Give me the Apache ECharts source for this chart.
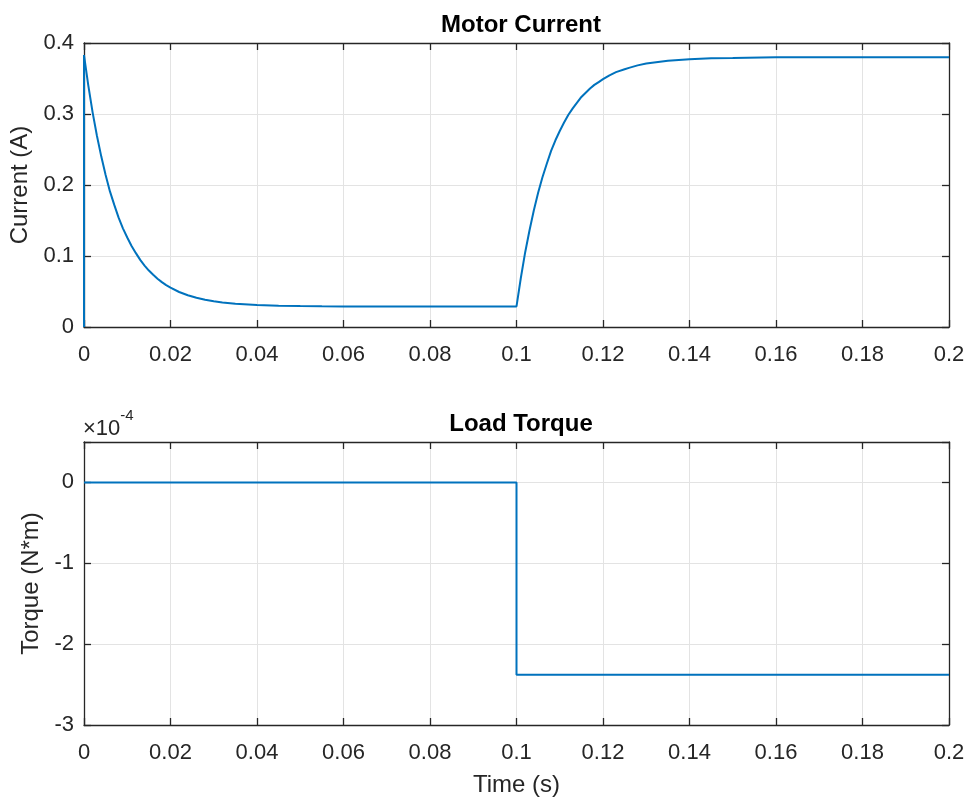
<!DOCTYPE html>
<html>
<head>
<meta charset="utf-8">
<script src="https://cdn.jsdelivr.net/npm/echarts@6/dist/echarts.min.js"></script>
<style>
html,body{margin:0;padding:0;background:#fff;}
#chart{width:973px;height:806px;}
</style>
</head>
<body>
<div id="chart"></div>
<script>
// ---- Data ----
// Motor current (A) vs time (s)
var currentTime = [0, 0, 0.001, 0.002, 0.003, 0.004, 0.005, 0.006, 0.007, 0.008, 0.009, 0.010,
  0.011, 0.012, 0.013, 0.014, 0.015, 0.016, 0.017, 0.018, 0.019, 0.020, 0.022, 0.024, 0.026,
  0.028, 0.030, 0.032, 0.035, 0.040, 0.045, 0.050, 0.055, 0.060,
  0.080, 0.100, 0.101, 0.102, 0.103, 0.104, 0.105, 0.106, 0.107, 0.108, 0.109, 0.110,
  0.111, 0.112, 0.113, 0.114, 0.115, 0.116, 0.117, 0.118, 0.119, 0.120, 0.1215, 0.123,
  0.125, 0.126, 0.128, 0.130, 0.135, 0.140, 0.145, 0.150, 0.160, 0.180, 0.200];
var currentValues = [0, 0.383, 0.340, 0.302, 0.269, 0.240, 0.214, 0.191, 0.172, 0.154, 0.139, 0.126,
  0.114, 0.104, 0.0945, 0.0865, 0.0795, 0.0735, 0.0680, 0.0632, 0.0590, 0.0554, 0.0493, 0.0447, 0.0411,
  0.0383, 0.0362, 0.0346, 0.0328, 0.0310, 0.0300, 0.0295, 0.0292, 0.029,
  0.029, 0.029, 0.069, 0.105, 0.136, 0.164, 0.189, 0.211, 0.230, 0.248, 0.263, 0.276,
  0.288, 0.299, 0.308, 0.316, 0.324, 0.330, 0.336, 0.341, 0.345, 0.349, 0.3545, 0.359,
  0.363, 0.365, 0.3685, 0.371, 0.375, 0.377, 0.3786, 0.379, 0.380, 0.380, 0.380];
// Load torque, in units of 1e-4 N*m, vs time (s)
var torqueTime = [0, 0.1, 0.1, 0.2];
var torqueValues = [0, 0, -2.38, -2.38];

var xTicks = {min: 0, max: 0.2, interval: 0.02};
var currentAxis = {min: 0, max: 0.4, interval: 0.1};
var torqueAxis = {min: -3, max: 0.5, interval: 1};

// ---- Styles ----
var axisColor = '#262626';
var gridColor = '#e3e3e3';
var lineColor = '#0072BD';
var fontFam = 'Liberation Sans, Arial, Helvetica, sans-serif';

function zip(a, b) { return a.map(function (v, i) { return [v, b[i]]; }); }

function mainX(gi, name) {
  return {
    type: 'value', gridIndex: gi, position: 'bottom',
    min: xTicks.min, max: xTicks.max, interval: xTicks.interval,
    name: name || '', nameLocation: 'middle', nameGap: 48,
    nameTextStyle: {fontSize: 24, color: axisColor, fontFamily: fontFam},
    axisLine: {show: true, onZero: false, lineStyle: {color: axisColor, width: 1.3}},
    axisTick: {show: true, inside: true, length: 7, lineStyle: {color: axisColor, width: 1.3}},
    axisLabel: {show: true, fontSize: 22, color: axisColor, fontFamily: fontFam, margin: 17},
    splitLine: {show: true, lineStyle: {color: gridColor, width: 1}}
  };
}
function topX(gi) {
  return {
    type: 'value', gridIndex: gi, position: 'top',
    min: xTicks.min, max: xTicks.max, interval: xTicks.interval,
    axisLine: {show: true, onZero: false, lineStyle: {color: axisColor, width: 1.3}},
    axisTick: {show: true, inside: true, length: 7, lineStyle: {color: axisColor, width: 1.3}},
    axisLabel: {show: false}, splitLine: {show: false}
  };
}
function mainY(gi, rng, name, gap, fmt) {
  return {
    type: 'value', gridIndex: gi, position: 'left',
    min: rng.min, max: rng.max, interval: rng.interval,
    name: name, nameLocation: 'middle', nameGap: gap,
    nameTextStyle: {fontSize: 24, color: axisColor, fontFamily: fontFam},
    axisLine: {show: true, onZero: false, lineStyle: {color: axisColor, width: 1.3}},
    axisTick: {show: true, inside: true, length: 7, lineStyle: {color: axisColor, width: 1.3}},
    axisLabel: {show: true, fontSize: 22, color: axisColor, fontFamily: fontFam, margin: 10, formatter: fmt},
    splitLine: {show: true, lineStyle: {color: gridColor, width: 1}}
  };
}
function rightY(gi, rng) {
  return {
    type: 'value', gridIndex: gi, position: 'right',
    min: rng.min, max: rng.max, interval: rng.interval,
    axisLine: {show: true, onZero: false, lineStyle: {color: axisColor, width: 1.3}},
    axisTick: {show: true, inside: true, length: 7, lineStyle: {color: axisColor, width: 1.3}},
    axisLabel: {show: false}, splitLine: {show: false}
  };
}

var chart = echarts.init(document.getElementById('chart'), null, {renderer: 'canvas'});
chart.setOption({
  backgroundColor: '#ffffff',
  animation: false,
  title: [
    {text: 'Motor Current', left: 516, top: 8, textAlign: 'center',
     textStyle: {fontSize: 24, fontWeight: 'bold', color: '#000', fontFamily: fontFam}},
    {text: 'Load Torque', left: 516, top: 407, textAlign: 'center',
     textStyle: {fontSize: 24, fontWeight: 'bold', color: '#000', fontFamily: fontFam}}
  ],
  graphic: [{
    type: 'text', left: 83, top: 408,
    style: {
      text: '{a|×10}{b|-4}',
      rich: {
        a: {fontSize: 22, fill: axisColor, fontFamily: fontFam, padding: [10, 0, 0, 0]},
        b: {fontSize: 15, fill: axisColor, fontFamily: fontFam, verticalAlign: 'top', padding: [0, 0, 12, 0]}
      }
    }
  }],
  grid: [
    {left: 84, right: 24, top: 43, height: 284},
    {left: 84, right: 24, top: 442, height: 283}
  ],
  xAxis: [mainX(0), topX(0), mainX(1, 'Time (s)'), topX(1)],
  yAxis: [
    mainY(0, currentAxis, 'Current (A)', 49),
    rightY(0, currentAxis),
    mainY(1, torqueAxis, 'Torque (N*m)', 37, function (v) {
      return Math.abs(v - 0.5) < 1e-9 ? '' : String(v);
    }),
    rightY(1, torqueAxis)
  ],
  series: [
    {type: 'line', xAxisIndex: 0, yAxisIndex: 0, data: zip(currentTime, currentValues),
     showSymbol: false, smooth: false, lineStyle: {color: lineColor, width: 2}, clip: true},
    {type: 'line', xAxisIndex: 2, yAxisIndex: 2, data: zip(torqueTime, torqueValues),
     showSymbol: false, lineStyle: {color: lineColor, width: 2}, clip: true}
  ]
});
</script>
</body>
</html>
